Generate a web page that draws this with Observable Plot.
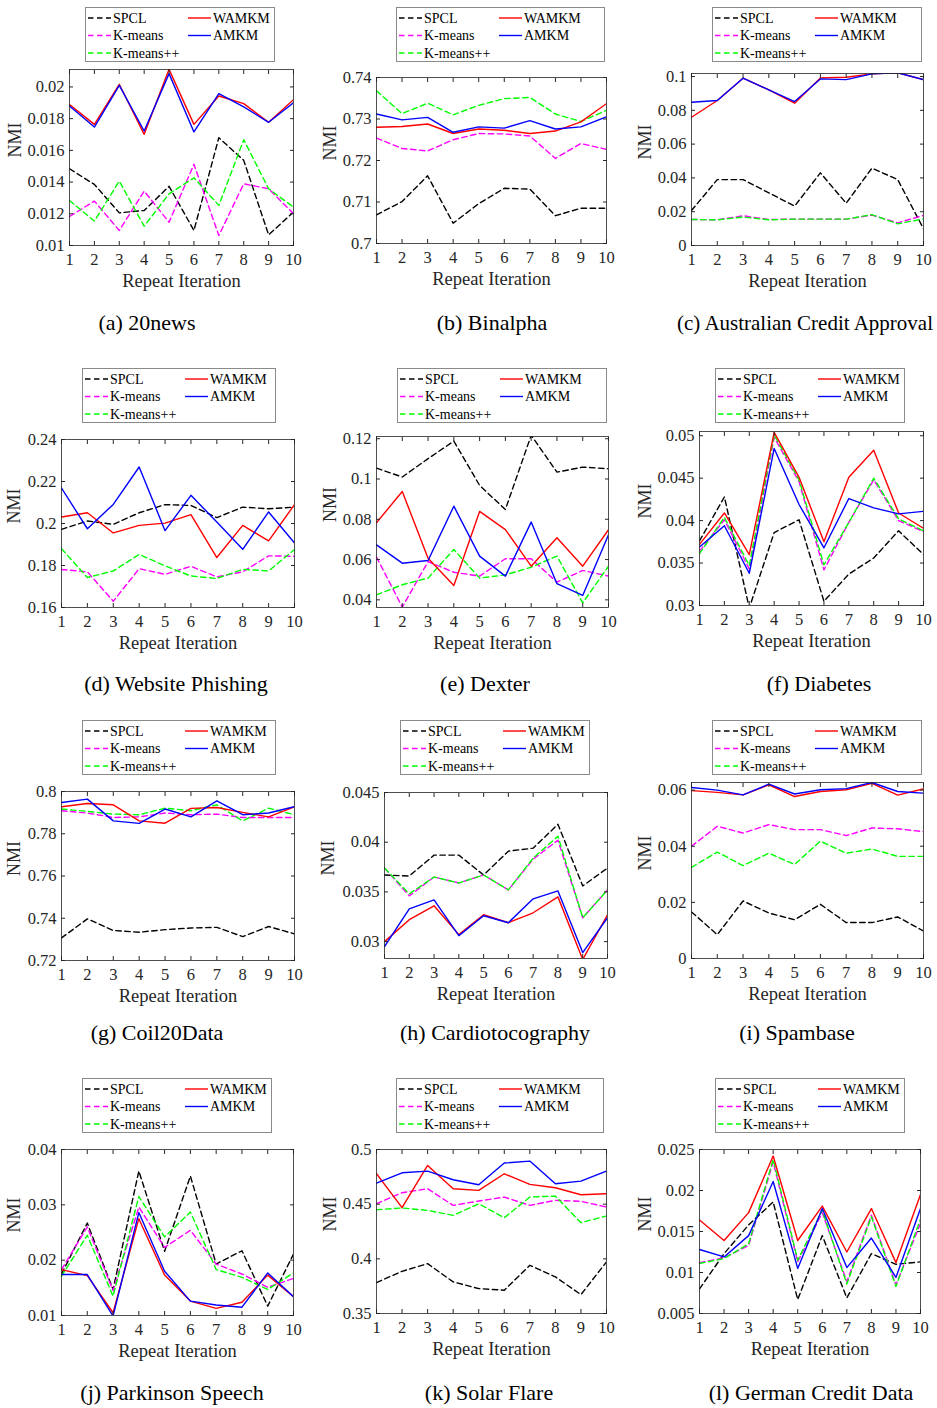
<!DOCTYPE html>
<html><head><meta charset="utf-8">
<script src="https://cdn.jsdelivr.net/npm/d3@7"></script>
<script src="https://cdn.jsdelivr.net/npm/@observablehq/plot@0.6"></script>
<style>
body{margin:0;background:#fff;}
#page{position:relative;width:937px;height:1408px;overflow:hidden;font-family:"Liberation Serif","Times New Roman",serif;background:#fff;}
.panel{position:absolute;}
.caption{position:absolute;color:#000;white-space:nowrap;transform:translate(-50%,-50%);}
.legend{position:absolute;}
</style></head><body><div id="page"></div>
<script>
// ---------- data ----------
const iterations = [1,2,3,4,5,6,7,8,9,10];
const methods = ["SPCL","K-means","K-means++","WAMKM","AMKM"];
const datasets = ["(a) 20news","(b) Binalpha","(c) Australian Credit Approval","(d) Website Phishing","(e) Dexter","(f) Diabetes","(g) Coil20Data","(h) Cardiotocography","(i) Spambase","(j) Parkinson Speech","(k) Solar Flare","(l) German Credit Data"];

const SPCL = [
  [0.01484,0.01385,0.01206,0.01221,0.01373,0.01095,0.0168,0.01537,0.01067,0.01211],
  [0.7069,0.7101,0.7163,0.7049,0.7096,0.7133,0.7131,0.7067,0.7085,0.7085],
  [0.0207,0.039,0.039,0.0312,0.0233,0.043,0.025,0.0458,0.039,0.0099],
  [0.1972,0.2012,0.1996,0.2051,0.209,0.2086,0.2028,0.2078,0.207,0.2078],
  [0.1054,0.101,0.1101,0.1188,0.0968,0.0849,0.1217,0.1034,0.1059,0.1051],
  [0.0376,0.0428,0.0297,0.0386,0.0401,0.0305,0.0337,0.0356,0.0388,0.036],
  [0.7307,0.7397,0.7342,0.7334,0.7346,0.7354,0.7357,0.7313,0.7361,0.7326],
  [0.0367,0.0366,0.0387,0.0387,0.0367,0.0391,0.0394,0.0418,0.0356,0.0374],
  [0.0166,0.0085,0.0205,0.0162,0.0138,0.0193,0.0128,0.0128,0.0148,0.0098],
  [0.0175,0.0267,0.0147,0.0361,0.0216,0.0352,0.0193,0.0217,0.0117,0.0211],
  [0.3783,0.3886,0.3956,0.3789,0.3728,0.3713,0.3941,0.3835,0.3673,0.3972],
  [0.008,0.0123,0.0158,0.0186,0.0067,0.0145,0.0069,0.0123,0.011,0.0113]
];
const KMEANS = [
  [0.01183,0.0128,0.01095,0.01343,0.01147,0.01512,0.01063,0.01389,0.01358,0.012],
  [0.7254,0.7229,0.7223,0.725,0.7265,0.7264,0.7259,0.7205,0.7241,0.7227],
  [0.0154,0.0152,0.0176,0.0154,0.0156,0.0156,0.0156,0.018,0.0134,0.0178],
  [0.1781,0.177,0.163,0.1785,0.1758,0.1796,0.1746,0.177,0.1846,0.1844],
  [0.0612,0.0364,0.059,0.0537,0.0518,0.0604,0.0604,0.0488,0.0546,0.0518],
  [0.0364,0.0401,0.0343,0.0498,0.0446,0.0342,0.0398,0.0448,0.04,0.0387],
  [0.7909,0.7898,0.7877,0.788,0.7898,0.789,0.7893,0.7877,0.7877,0.7877],
  [0.0374,0.0346,0.0365,0.0359,0.0367,0.0352,0.0383,0.0402,0.0324,0.0352],
  [0.04,0.0471,0.0447,0.0477,0.0459,0.0459,0.0438,0.0465,0.0462,0.0452],
  [0.0183,0.026,0.0145,0.0296,0.0223,0.0254,0.0193,0.0175,0.0151,0.0167],
  [0.4504,0.4605,0.4641,0.4489,0.4529,0.4565,0.4489,0.4535,0.4526,0.4474],
  [0.0112,0.0118,0.0133,0.0235,0.0113,0.0173,0.0089,0.017,0.0085,0.016]
];
const KMEANSPP = [
  [0.01284,0.01154,0.01406,0.01122,0.01326,0.01427,0.01253,0.01667,0.01358,0.01242],
  [0.7368,0.7313,0.7338,0.731,0.7333,0.7349,0.7352,0.7312,0.7294,0.7321],
  [0.0154,0.0152,0.0168,0.0152,0.0156,0.0156,0.0156,0.0183,0.0128,0.0158],
  [0.188,0.1743,0.1774,0.1853,0.1798,0.175,0.1738,0.1782,0.1774,0.1876],
  [0.0425,0.0475,0.0508,0.065,0.0508,0.0524,0.0562,0.0617,0.0385,0.0567],
  [0.0361,0.0404,0.0347,0.0501,0.0448,0.0348,0.0398,0.045,0.0402,0.0388],
  [0.7917,0.7906,0.7893,0.789,0.7921,0.7909,0.7937,0.7861,0.7921,0.789],
  [0.0374,0.0348,0.0365,0.0359,0.0367,0.0352,0.0384,0.0406,0.0324,0.0352],
  [0.0325,0.0379,0.0331,0.0375,0.0335,0.0418,0.0375,0.039,0.0364,0.0364],
  [0.0171,0.0245,0.0135,0.0315,0.0242,0.0287,0.0183,0.0169,0.0147,0.0177],
  [0.4449,0.4465,0.4443,0.4398,0.4504,0.4376,0.4565,0.4574,0.4331,0.4392],
  [0.0111,0.0117,0.0135,0.0238,0.0115,0.0176,0.0086,0.0168,0.0083,0.0165]
];
const WAMKM = [
  [0.01889,0.01764,0.02017,0.01701,0.02111,0.01764,0.01943,0.01895,0.01777,0.0192],
  [0.728,0.7282,0.7288,0.7265,0.7276,0.7273,0.7265,0.7271,0.7293,0.7337],
  [0.0759,0.0858,0.099,0.0921,0.0842,0.0992,0.0996,0.1016,0.1022,0.0982],
  [0.2031,0.2051,0.1955,0.1991,0.2002,0.2042,0.1838,0.1991,0.1917,0.209],
  [0.0783,0.0938,0.0607,0.0471,0.0839,0.0749,0.0567,0.0708,0.0567,0.0748],
  [0.0372,0.0409,0.036,0.0504,0.0451,0.0375,0.0451,0.0483,0.0409,0.0391],
  [0.7928,0.7943,0.7937,0.7861,0.785,0.792,0.7924,0.7901,0.788,0.7928],
  [0.03,0.0322,0.0336,0.0307,0.0327,0.0319,0.0329,0.0345,0.0282,0.0327],
  [0.0598,0.0592,0.0583,0.0619,0.0577,0.0595,0.0601,0.0624,0.0582,0.0604],
  [0.0183,0.0172,0.0105,0.0275,0.0173,0.0126,0.0113,0.0124,0.0173,0.0134],
  [0.4778,0.4468,0.4854,0.4641,0.4626,0.4778,0.4681,0.465,0.4586,0.4596],
  [0.0164,0.0139,0.0173,0.0242,0.0139,0.0181,0.0125,0.0178,0.0112,0.0195]
];
const AMKM = [
  [0.0188,0.01747,0.0201,0.01722,0.02084,0.01716,0.01958,0.01874,0.01777,0.01901],
  [0.7312,0.7298,0.7304,0.7268,0.7281,0.7278,0.7296,0.7276,0.7281,0.7305],
  [0.0848,0.0858,0.099,0.0921,0.0852,0.0986,0.0982,0.1016,0.1022,0.0982],
  [0.2169,0.1975,0.2091,0.2269,0.1966,0.2134,0.2007,0.1877,0.2055,0.1907],
  [0.0673,0.0582,0.0595,0.0865,0.0617,0.0518,0.0786,0.048,0.0422,0.0723],
  [0.0369,0.0394,0.0338,0.0485,0.0419,0.0368,0.0426,0.0415,0.0408,0.0411],
  [0.7948,0.7964,0.7861,0.7849,0.7917,0.788,0.7956,0.789,0.7898,0.7928],
  [0.0295,0.0333,0.0342,0.0306,0.0326,0.0319,0.0343,0.0351,0.0289,0.0324],
  [0.0609,0.06,0.0583,0.0621,0.0586,0.0601,0.0605,0.0627,0.0595,0.0589],
  [0.0174,0.0174,0.0099,0.0286,0.018,0.0126,0.0119,0.0115,0.0177,0.0134],
  [0.4693,0.4787,0.4802,0.4723,0.4678,0.4876,0.4894,0.4687,0.4711,0.4802],
  [0.0128,0.0119,0.0145,0.0211,0.0105,0.0178,0.0106,0.0142,0.0094,0.0178]
];
const yTicks = [
  [0.01,0.012,0.014,0.016,0.018,0.02],
  [0.7,0.71,0.72,0.73,0.74],
  [0,0.02,0.04,0.06,0.08,0.1],
  [0.16,0.18,0.2,0.22,0.24],
  [0.04,0.06,0.08,0.1,0.12],
  [0.03,0.035,0.04,0.045,0.05],
  [0.72,0.74,0.76,0.78,0.8],
  [0.03,0.035,0.04,0.045],
  [0,0.02,0.04,0.06],
  [0.01,0.02,0.03,0.04],
  [0.35,0.4,0.45,0.5],
  [0.005,0.01,0.015,0.02,0.025]
];
const yDomains = [
  [0.01,0.0211],[0.7,0.74],[0,0.1018],
  [0.16,0.24],[0.0362,0.1211],[0.03,0.0505],
  [0.72,0.8],[0.0283,0.045],[0,0.0627],
  [0.01,0.04],[0.35,0.5],[0.005,0.025]
];

// ---------- layout & style ----------
const series = [SPCL, KMEANS, KMEANSPP, WAMKM, AMKM];
const colors = {"SPCL":"#000000","K-means":"#ff00ff","K-means++":"#00ff00","WAMKM":"#ff0000","AMKM":"#0000ff"};
const dashed = {"SPCL":true,"K-means":true,"K-means++":true,"WAMKM":false,"AMKM":false};
const frames = [[69,69,293,245],[376,77,606,243],[691,73,923,245],[61,439,294,607],[376,436,608,607],[699,431,923,605],[61,791,294,960],[384,792,607,958],[691,782,923,958],[61,1149,293,1315],[376,1149,606,1313],[699,1149,920,1313]];
const legends = [[85,7,190],[396,7,209],[712,7,210],[82,368,194],[397,368,210],[715,368,190],[82,720,194],[400,720,190],[712,720,210],[82,1078,190],[396,1078,208],[715,1078,190]];
const captionPos = [[147,323],[492,323],[805,323],[176,684],[485,684],[819,684],[157,1033],[495,1033],[797,1033],[172,1393],[489,1393],[811,1393]];
const captionSize = [22,22,21,22,22,22,22,22,22,22,22,22];
const nmiX = [15,330,645,14,330,645,14,328,645,14,330,645];

const page = document.getElementById("page");
const fmt = d3.format("~g");
const mL = 72, mR = 12, mT = 8, mB = 56;
const serif = '"Liberation Serif","Times New Roman",serif';

frames.forEach(([L,T,R,B], p) => {
  const rows = [];
  methods.forEach((m, mi) => series[mi][p].forEach((v, i) => rows.push({method: m, iter: iterations[i], nmi: v})));
  const lineMarks = methods.map(m => Plot.line(rows.filter(r => r.method === m), {
    x: "iter", y: "nmi", stroke: colors[m], strokeWidth: 1.4,
    strokeDasharray: dashed[m] ? "5.5,3.5" : null, clip: true
  }));
  const svg = Plot.plot({
    width: (R - L) + mL + mR,
    height: (B - T) + mT + mB,
    marginLeft: mL, marginRight: mR, marginTop: mT, marginBottom: mB,
    style: {fontFamily: serif, fontSize: "16.5px", color: "#262626", background: "transparent", overflow: "visible"},
    x: {domain: [1, 10]},
    y: {domain: yDomains[p]},
    marks: [
      ...lineMarks,
      Plot.frame({stroke: "#262626", strokeWidth: 0.8}),
      Plot.axisX({anchor: "bottom", ticks: iterations, tickSize: -4, tickPadding: 12, tickFormat: fmt, label: null, fontSize: 16.5}),
      Plot.axisX({anchor: "top", ticks: iterations, tickSize: -4, tickFormat: () => "", label: null}),
      Plot.axisY({anchor: "left", ticks: yTicks[p], tickSize: -4, tickPadding: 9, tickFormat: fmt, label: null, fontSize: 16.5}),
      Plot.axisY({anchor: "right", ticks: yTicks[p], tickSize: -4, tickFormat: () => "", label: null}),
      Plot.text(["NMI"], {text: d => d, frameAnchor: "left", dx: -(L - nmiX[p]), rotate: -90, fontSize: 18, fill: "#262626"}),
      Plot.text(["Repeat Iteration"], {text: d => d, frameAnchor: "bottom", dy: 41, fontSize: 18.5, fill: "#262626"})
    ]
  });
  const wrap = document.createElement("div");
  wrap.className = "panel";
  wrap.style.left = (L - mL) + "px";
  wrap.style.top = (T - mT) + "px";
  wrap.appendChild(svg);
  page.appendChild(wrap);

  // legend
  const [lx, ly, lw] = legends[p];
  const lh = 55;
  const ns = "http://www.w3.org/2000/svg";
  const lsvg = document.createElementNS(ns, "svg");
  lsvg.setAttribute("width", lw); lsvg.setAttribute("height", lh);
  lsvg.setAttribute("class", "legend");
  lsvg.style.left = lx + "px"; lsvg.style.top = ly + "px";
  const rect = document.createElementNS(ns, "rect");
  rect.setAttribute("x", 0.5); rect.setAttribute("y", 0.5);
  rect.setAttribute("width", lw - 1); rect.setAttribute("height", lh - 1);
  rect.setAttribute("fill", "#fff"); rect.setAttribute("stroke", "#8a8a8a"); rect.setAttribute("stroke-width", 1);
  lsvg.appendChild(rect);
  const slots = {"SPCL":[0,0],"WAMKM":[1,0],"K-means":[0,1],"AMKM":[1,1],"K-means++":[0,2]};
  methods.forEach(m => {
    const [c, r] = slots[m];
    const x0 = 3 + c * 100, yy = 11 + r * 17.5;
    const ln = document.createElementNS(ns, "line");
    ln.setAttribute("x1", x0); ln.setAttribute("x2", x0 + 23);
    ln.setAttribute("y1", yy); ln.setAttribute("y2", yy);
    ln.setAttribute("stroke", colors[m]); ln.setAttribute("stroke-width", 1.4);
    if (dashed[m]) ln.setAttribute("stroke-dasharray", "5.5,3.5");
    lsvg.appendChild(ln);
    const t = document.createElementNS(ns, "text");
    t.setAttribute("x", x0 + 25); t.setAttribute("y", yy);
    t.setAttribute("dy", "0.35em");
    t.setAttribute("font-size", "14px");
    t.setAttribute("font-family", serif);
    t.setAttribute("fill", "#000");
    t.textContent = m;
    lsvg.appendChild(t);
  });
  page.appendChild(lsvg);

  // caption
  const cap = document.createElement("div");
  cap.className = "caption";
  cap.style.left = captionPos[p][0] + "px";
  cap.style.top = captionPos[p][1] + "px";
  cap.style.fontSize = captionSize[p] + "px";
  cap.textContent = datasets[p];
  page.appendChild(cap);
});
</script></body></html>
